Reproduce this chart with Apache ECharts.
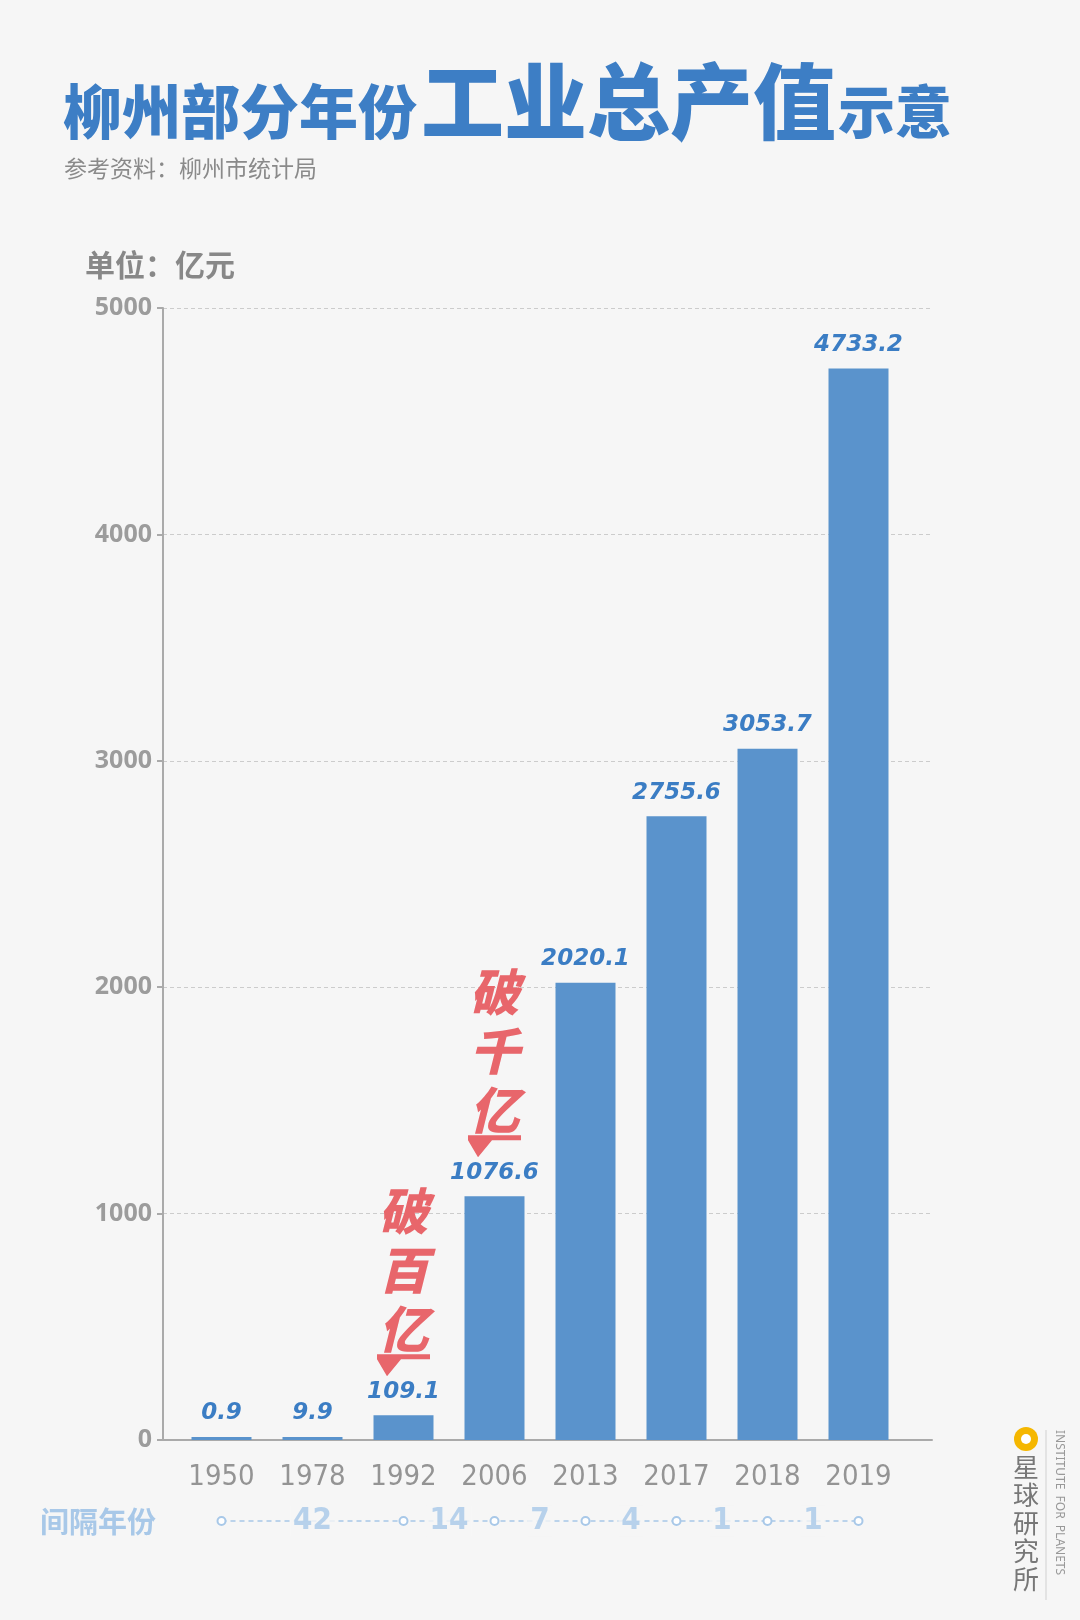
<!DOCTYPE html>
<html>
<head>
<meta charset="utf-8">
<title>柳州部分年份工业总产值示意</title>
<script src="https://cdn.jsdelivr.net/npm/echarts@6/dist/echarts.min.js"></script>
<style>
html, body { margin: 0; padding: 0; background: #f6f6f6; }
#chart { width: 1080px; height: 1620px; }
</style>
</head>
<body>
<div id="chart"></div>
<script>
// 年份 与 工业总产值（亿元）
const years = ['1950', '1978', '1992', '2006', '2013', '2017', '2018', '2019'];
const values = [0.9, 9.9, 109.1, 1076.6, 2020.1, 2755.6, 3053.7, 4733.2];
// 间隔年份一行：圆点所在年份 和 两点之间的间隔
const gapYears = ['1950', '1992', '2006', '2013', '2017', '2018', '2019'];
const gapValues = [42, 14, 7, 4, 1, 1];
// 红字标注
const noteYears = ['1992', '2006'];
const noteTexts = ['破百亿', '破千亿'];

const BG = '#f6f6f6';
const BLUE = '#5a93cc';
const LABEL_BLUE = '#3b7dc4';
const RED = '#e8666b';
const LIGHT = '#a8c8e8';
const GREY = '#949494';
const NARROW = '"DejaVu Sans Condensed", "Liberation Sans Narrow", "Noto Sans", sans-serif';

const gapIdx = gapYears.map(y => years.indexOf(y));
const gapPoints = gapIdx.map(i => [i, 0]);
const gapLabels = gapValues.map((v, i) => [(gapIdx[i] + gapIdx[i + 1]) / 2, 0, v]);

const myChart = echarts.init(document.getElementById('chart'));

const option = {
    backgroundColor: BG,
    animation: false,
    grid: [
        // 坐标轴与虚线网格
        { left: 163, right: 148, top: 308, bottom: 180 },
        // 柱子
        { left: 176, right: 176, top: 308, bottom: 180 },
        // 间隔年份
        { left: 176, right: 176, top: 1511, height: 20 }
    ],
    xAxis: [
        {
            gridIndex: 0, type: 'value', min: 0, max: 1, offset: 6,
            axisLine: { show: true, lineStyle: { color: '#aaaaaa', width: 2 } },
            axisTick: { show: false }, axisLabel: { show: false }, splitLine: { show: false }
        },
        {
            gridIndex: 1, type: 'category', data: years,
            axisLine: { show: false }, axisTick: { show: false },
            axisLabel: { interval: 0, color: GREY, fontSize: 29, fontFamily: NARROW, margin: 23 }
        },
        {
            gridIndex: 2, type: 'value', min: -0.5, max: 7.5, show: false
        }
    ],
    yAxis: [
        {
            gridIndex: 0, type: 'value', min: 0, max: 5000, interval: 1000,
            axisLine: { show: true, lineStyle: { color: '#aaaaaa', width: 2 } },
            axisTick: { show: true, length: 6, lineStyle: { color: '#aaaaaa', width: 2 } },
            axisLabel: {
                color: '#9c9c9c', fontSize: 25, fontWeight: 'bold', fontFamily: 'Noto Sans', margin: 11,
                formatter: v => String(v)
            },
            splitLine: { show: true, lineStyle: { color: '#cccccc', type: [4, 3], width: 1 } }
        },
        { gridIndex: 1, type: 'value', min: 0, max: 5000, show: false },
        { gridIndex: 2, type: 'value', min: -1, max: 1, show: false }
    ],
    series: [
        {
            name: '工业总产值',
            type: 'bar',
            xAxisIndex: 1,
            yAxisIndex: 1,
            data: values,
            barWidth: 60,
            barMinHeight: 3,
            itemStyle: { color: BLUE },
            label: {
                show: true, position: 'top', distance: 12,
                color: LABEL_BLUE, fontSize: 23, fontWeight: 'bold', fontStyle: 'italic',
                fontFamily: 'DejaVu Sans'
            },
            markPoint: {
                symbol: 'path://M0,0L53,0L53,5L24,5L10,22L0,5Z',
                symbolSize: [53, 22],
                symbolOffset: [0, -50],
                itemStyle: { color: RED },
                label: {
                    show: true, position: 'top', distance: -4,
                    formatter: p => p.name.split('').join('\n'),
                    color: RED, fontSize: 50, lineHeight: 59, fontWeight: 900, fontStyle: 'italic',
                    fontFamily: '"Noto Sans CJK SC"'
                },
                data: noteYears.map((y, i) => ({
                    name: noteTexts[i],
                    coord: [y, values[years.indexOf(y)]]
                }))
            }
        },
        {
            type: 'line',
            xAxisIndex: 2,
            yAxisIndex: 2,
            data: gapPoints,
            symbol: 'emptyCircle',
            symbolSize: 8,
            lineStyle: { color: LIGHT, width: 1.5, type: [5, 4] },
            itemStyle: { color: LIGHT, borderWidth: 1.5 },
            z: 2
        },
        {
            type: 'scatter',
            xAxisIndex: 2,
            yAxisIndex: 2,
            data: gapLabels,
            symbolSize: 1,
            itemStyle: { color: 'rgba(0,0,0,0)' },
            label: {
                show: true, position: 'inside',
                formatter: p => p.value[2],
                color: LIGHT, fontSize: 31, fontWeight: 'bold', fontFamily: NARROW,
                backgroundColor: BG, padding: [0, 3]
            },
            z: 3
        }
    ],
    graphic: [
        { type: 'text', x: 63, y: 141, style: { text: '柳州部分年份', font: '900 59px "Noto Sans CJK SC"', fill: '#3d7ec5', textVerticalAlign: 'bottom' } },
        { type: 'text', x: 421, y: 143, style: { text: '工业总产值', font: '900 83px "Noto Sans CJK SC"', fill: '#3d7ec5', textVerticalAlign: 'bottom' } },
        { type: 'text', x: 838, y: 140, style: { text: '示意', font: '900 57px "Noto Sans CJK SC"', fill: '#3d7ec5', textVerticalAlign: 'bottom' } },
        { type: 'text', x: 64, y: 168, style: { text: '参考资料：柳州市统计局', font: '23px "Noto Sans CJK SC"', fill: '#8a8a8a', textVerticalAlign: 'middle' } },
        { type: 'text', x: 85, y: 265, style: { text: '单位：亿元', font: 'bold 30px "Noto Sans CJK SC"', fill: '#888888', textVerticalAlign: 'middle' } },
        { type: 'text', x: 40, y: 1522, style: { text: '间隔年份', font: 'bold 29px "Noto Sans CJK SC"', fill: LIGHT, textVerticalAlign: 'middle' } },
        // 星球研究所 标志
        { type: 'circle', shape: { cx: 1026, cy: 1439, r: 12 }, style: { fill: '#f5b700' } },
        { type: 'circle', shape: { cx: 1026, cy: 1439, r: 5 }, style: { fill: '#ffffff' } },
        { type: 'text', x: 1026, y: 1453, style: { text: '星\n球\n研\n究\n所', font: '26px "Noto Sans CJK SC"', lineHeight: 28, fill: '#777777', textAlign: 'center', textVerticalAlign: 'top' } },
        { type: 'line', shape: { x1: 1046, y1: 1430, x2: 1046, y2: 1600 }, style: { stroke: '#d0d0d0', lineWidth: 1 } },
        { type: 'text', x: 1059, y: 1430, rotation: -Math.PI / 2, style: { text: 'INSTITUTE  FOR  PLANETS', font: '12px "Noto Sans"', fill: '#999999', textAlign: 'left', textVerticalAlign: 'middle' } }
    ]
};

myChart.setOption(option);
</script>
</body>
</html>
